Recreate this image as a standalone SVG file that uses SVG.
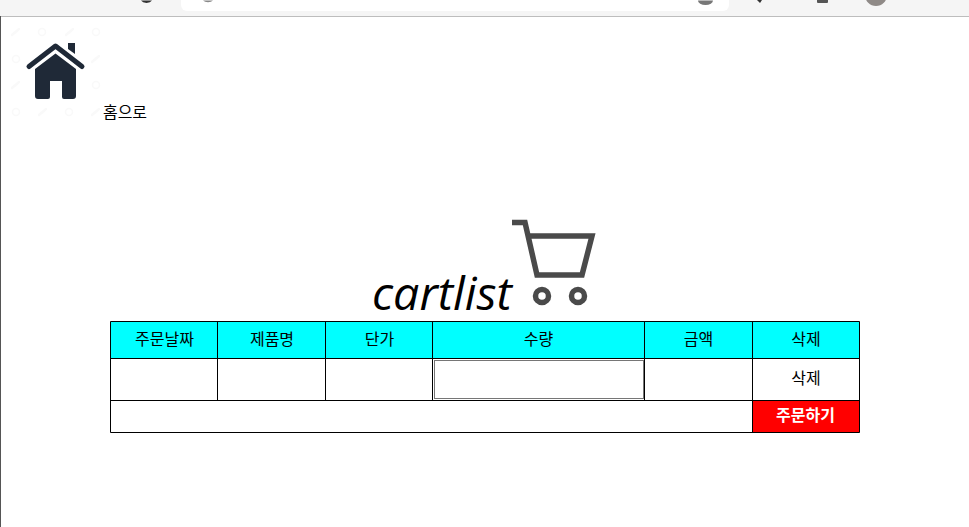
<svg xmlns="http://www.w3.org/2000/svg" width="969" height="527" viewBox="0 0 969 527">
<style>
text{font-family:"Noto Sans CJK KR","Noto Sans",sans-serif;font-size:16px;text-anchor:middle;fill:#000}
.l{fill:none;stroke:#000;stroke-width:1}
.h{fill:#0ff}
.w{stroke:#f9f9f9;stroke-width:2.500;fill:none;stroke-linecap:round}
.c{stroke:#f9f9f9;stroke-width:1.500;fill:none}
</style>
<rect width="969" height="527" fill="#fff"/>
<g id="browser">
<rect width="969" height="16" fill="#f5f5f5"/>
<rect x="181" y="-12" width="548" height="23" rx="6" fill="#fff"/>
<rect y="16" width="969" height="1" fill="#bdbdbd"/>
<rect y="16" width="1" height="511" fill="#555"/>
<path d="M141 0.500a6 4 0 0 0 11 0z" fill="#333"/>
<path d="M203 0.500a6 4 0 0 0 10 0z" fill="#888"/>
<path d="M698 0.500a5 3 0 0 0 15 0z" fill="#777"/>
<path d="M757 0h5l-2 3z" fill="#333"/>
<rect x="817" y="-3" width="11" height="6" rx="1" fill="#555"/>
<circle cx="876" cy="-5" r="11" fill="#8f8a87"/>
</g>
<g id="home">
<path d="M12 35l7-6M66 35l7-6M92 62l7-6M12 88l7-6M66 88l7-6M39 115l7-6M92 115l7-6" class="w"/>
<g class="c"><circle cx="42" cy="32" r="3.500"/><circle cx="96" cy="32" r="3.500"/><circle cx="16" cy="59" r="3.500"/><circle cx="96" cy="85" r="3.500"/><circle cx="16" cy="112" r="3.500"/><circle cx="69" cy="112" r="3.500"/></g>
<path d="M29 66.500L55.500 46L82 66.500" fill="none" stroke="#1f2937" stroke-width="5" stroke-linecap="round" stroke-linejoin="round"/>
<path d="M68 43h7v11l-7-5z" fill="#1f2937"/>
<path d="M35 69L55.500 53.500L76 69V96a3 3 0 0 1-3 3H64a2 2 0 0 1-2-2V81H50V97a2 2 0 0 1-2 2H38a3 3 0 0 1-3-3z" fill="#1f2937"/>
<text x="125" y="118">홈으로</text>
</g>
<g id="title">
<text x="442" y="310" style="font-size:46.500px;font-style:italic;font-family:'Open Sans','Noto Sans',sans-serif">cartlist</text>
<g fill="none" stroke="#4a4a4a" stroke-width="5.500">
<path d="M512 222.500H525L537 275H582L592 236H529"/>
<circle cx="542" cy="296" r="6.500"/>
<circle cx="578" cy="296" r="6.500"/>
</g>
</g>
<g id="cart-table">
<rect class="h" x="110.500" y="321.500" width="749" height="37"/>
<rect x="752.500" y="400.500" width="107" height="32" fill="#f00"/>
<path class="l" d="M110.500 321.500H859.500V432.500H110.500ZM110.500 358.500H859.500M110.500 400.500H859.500M217.500 321.500V400.500M325.500 321.500V400.500M432.500 321.500V400.500M644.500 321.500V400.500M752.500 321.500V432.500"/>
<rect x="434.500" y="360.500" width="209" height="38" fill="#fff" stroke="#767676" stroke-width="1"/>
<text x="164.500" y="345">주문날짜</text>
<text x="272" y="345">제품명</text>
<text x="379.500" y="345">단가</text>
<text x="538.500" y="345">수량</text>
<text x="698.500" y="345">금액</text>
<text x="806" y="345">삭제</text>
<text x="806" y="384">삭제</text>
<text x="805.500" y="421" style="fill:#fff;font-weight:700">주문하기</text>
</g>
</svg>
